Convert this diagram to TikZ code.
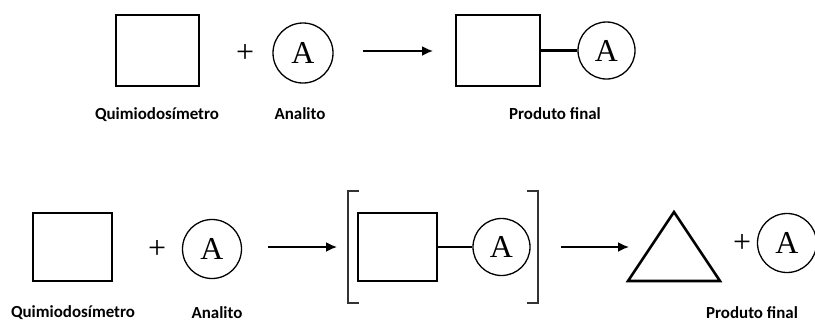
\documentclass[tikz,border=0pt]{standalone}
\usepackage{fontspec}
\setmainfont{Liberation Serif}
\newfontfamily\lblfont{Carlito}
\usetikzlibrary{arrows.meta}
\tikzset{
  box/.style={draw, line width=2.6bp, inner sep=0pt},
  analyte/.style={circle, draw, line width=1.3bp, inner sep=0pt, font=\fontsize{32}{32}\selectfont},
  plussign/.style={inner sep=0pt, font=\fontsize{32}{32}\selectfont},
  lbl/.style={inner sep=0pt, font=\lblfont\bfseries\fontsize{17}{20}\selectfont},
  arr/.style={line width=1.8bp, -{Latex[length=11bp,width=10bp]}},
  bond/.style={line width=2.3bp},
  brk/.style={line width=1.6bp, draw=black!80},
  tri/.style={line width=2.6bp, line join=miter}
}
\begin{document}
\begin{tikzpicture}[x=1bp,y=-1bp]
\useasboundingbox (0,0) rectangle (815,324);
% ---- top row ----
\node[box, minimum width=83bp, minimum height=71bp] (q1) at (157.5,50.5) {};
\node[plussign] (plus1) at (245,53) {+};
\node[analyte, minimum size=60bp] (a1) at (303,53) {A};
\coordinate (r1s) at (363,51);
\coordinate (r1e) at (433,51);
\draw[arr] (r1s) -- (r1e);
\node[box, minimum width=84bp, minimum height=71bp] (p1) at (498,50.5) {};
\node[analyte, minimum size=57bp] (pa1) at (606.5,50.5) {A};
\draw[bond] (p1.east) -- (pa1.west);
\node[lbl] (l1) at (157,115) {Quimiodosímetro};
\node[lbl] (l2) at (300,114) {Analito};
\node[lbl] (l3) at (555,114) {Produto final};
% ---- bottom row ----
\node[box, minimum width=79bp, minimum height=68bp] (q2) at (72.5,247) {};
\node[plussign] (plus2) at (157,249) {+};
\node[analyte, minimum size=59bp] (a2) at (212,249) {A};
\coordinate (r2s) at (268,247);
\coordinate (r2e) at (337,247);
\draw[arr] (r2s) -- (r2e);
\coordinate (bl1) at (359,191);
\coordinate (bl2) at (348,191);
\coordinate (bl3) at (348,303);
\coordinate (bl4) at (359,303);
\draw[brk] (bl1) -- (bl2) -- (bl3) -- (bl4);
\node[box, minimum width=79bp, minimum height=68bp] (p2) at (397.5,247) {};
\node[analyte, minimum size=57bp] (pa2) at (501.5,247) {A};
\draw[bond] (p2.east) -- (pa2.west);
\coordinate (br1) at (527,191);
\coordinate (br2) at (538,191);
\coordinate (br3) at (538,303);
\coordinate (br4) at (527,303);
\draw[brk] (br1) -- (br2) -- (br3) -- (br4);
\coordinate (r3s) at (561,247);
\coordinate (r3e) at (629,247);
\draw[arr] (r3s) -- (r3e);
\coordinate (t1) at (674,212);
\coordinate (t2) at (628,281);
\coordinate (t3) at (720,281);
\draw[tri] (t1) -- (t2) -- (t3) -- cycle;
\node[plussign] (plus3) at (742,243) {+};
\node[analyte, minimum size=59bp] (a3) at (787,243) {A};
\node[lbl] (l4) at (73,313) {Quimiodosímetro};
\node[lbl] (l5) at (217,313) {Analito};
\node[lbl] (l6) at (752,313) {Produto final};
\end{tikzpicture}
\end{document}
